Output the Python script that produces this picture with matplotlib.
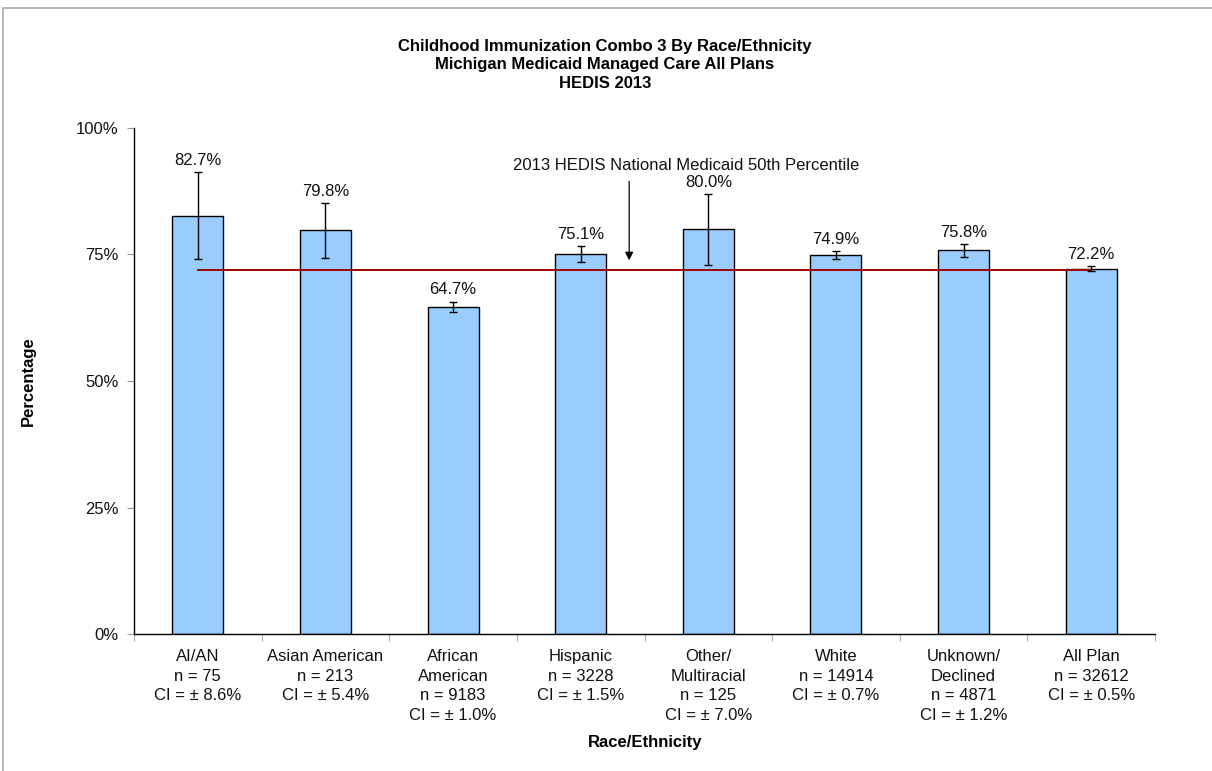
import matplotlib
matplotlib.use("Agg")
import matplotlib.pyplot as plt
from matplotlib.patches import Rectangle
from matplotlib.ticker import FixedLocator

plt.rcParams['font.family'] = ['Liberation Sans', 'DejaVu Sans']

categories = ["AI/AN", "Asian American", "African\nAmerican", "Hispanic",
              "Other/\nMultiracial", "White", "Unknown/\nDeclined", "All Plan"]
rates = [82.7, 79.8, 64.7, 75.1, 80.0, 74.9, 75.8, 72.2]
n_values = [75, 213, 9183, 3228, 125, 14914, 4871, 32612]
ci_values = [8.6, 5.4, 1.0, 1.5, 7.0, 0.7, 1.2, 0.5]
benchmark = 72.0
benchmark_label = "2013 HEDIS National Medicaid 50th Percentile"
yticks = [0, 25, 50, 75, 100]

FS = 12
fig = plt.figure(figsize=(12.12, 7.71), dpi=100)
# chart frame (gray border, clipped at right/bottom)
fig.patches.append(Rectangle((3 / 1212, -0.1), 1.2, 1 - 8 / 771 + 0.1,
                             transform=fig.transFigure, fill=False,
                             edgecolor='#AAAAAA', linewidth=1.2))

ax = fig.add_axes([134 / 1212, 1 - 634 / 771, (1155 - 134) / 1212, (634 - 128) / 771])

x = list(range(len(categories)))
ax.bar(x, rates, width=0.4, color='#99CCFF', edgecolor='black', linewidth=1.0, zorder=2)
ax.errorbar(x, rates, yerr=ci_values, fmt='none', ecolor='black', elinewidth=1.0,
            capsize=3, capthick=1.0, zorder=4)

for xi, r, c in zip(x, rates, ci_values):
    ax.annotate(f"{r:.1f}%", xy=(xi, r + c), xytext=(0, 3), textcoords='offset points',
                ha='center', va='bottom', fontsize=FS, color='#111111')

ax.plot([x[0], x[-1]], [benchmark, benchmark], color='#A00000', linewidth=1.4, zorder=3)

ax.annotate('', xy=(3.38, 73.3), xytext=(3.38, 90.0),
            arrowprops=dict(arrowstyle='-|>', color='black', lw=0.9,
                            mutation_scale=12), zorder=5)
fig.text(513 / 1212, 1 - 165 / 771, benchmark_label, ha='left', va='center',
         fontsize=FS, color='#111111')

labels = [f"{c}\nn = {n}\nCI = ± {ci:.1f}%" for c, n, ci in zip(categories, n_values, ci_values)]
ax.set_xlim(-0.5, len(categories) - 0.5)
ax.set_xticks(x)
ax.set_xticklabels(labels, fontsize=FS, color='#111111', linespacing=1.38)
ax.tick_params(axis='x', which='major', length=0, pad=11)
ax.xaxis.set_minor_locator(FixedLocator([i - 0.5 for i in range(len(categories) + 1)]))
ax.tick_params(axis='x', which='minor', length=5, color='#999999', direction='out')

ax.set_ylim(0, 100)
ax.set_yticks(yticks)
ax.set_yticklabels([f"{t}%" for t in yticks], fontsize=FS, color='#111111')
ax.tick_params(axis='y', length=5, color='#999999', direction='out', pad=6)

for s in ['top', 'right']:
    ax.spines[s].set_visible(False)
for s in ['left', 'bottom']:
    ax.spines[s].set_color('black')
    ax.spines[s].set_linewidth(1.0)

fig.text(605 / 1212, 1 - 65 / 771,
         "Childhood Immunization Combo 3 By Race/Ethnicity\nMichigan Medicaid Managed Care All Plans\nHEDIS 2013",
         ha='center', va='center', fontsize=FS, fontweight='bold', linespacing=1.25)
fig.text(28 / 1212, 1 - 381 / 771, "Percentage", rotation=90, ha='center', va='center',
         fontsize=FS, fontweight='bold')
fig.text(645 / 1212, 1 - 742 / 771, "Race/Ethnicity", ha='center', va='center',
         fontsize=FS, fontweight='bold')

fig.savefig("out.png", dpi=100)
